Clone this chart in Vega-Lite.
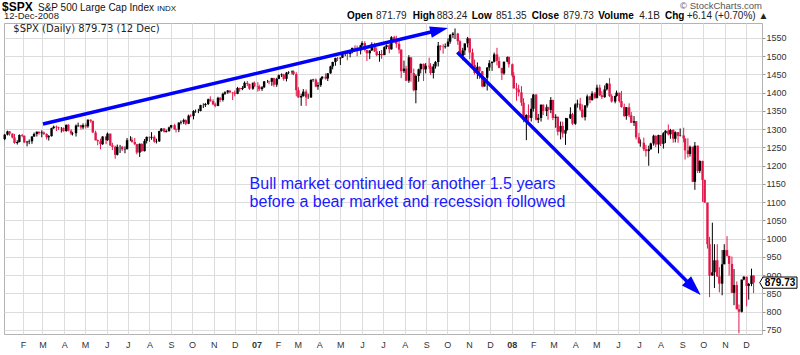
{
"$schema":"https://vega.github.io/schema/vega-lite/v6.json",
"width":758,"height":311,
"autosize":{"type":"none"},
"padding":{"left":4,"top":23,"right":38,"bottom":21},
"background":"#ffffff",
"config":{"view":{"stroke":"#b3b3b3","strokeWidth":1},"font":"Liberation Sans","scale":{"continuousPadding":0}},
"data":{"values":[
{"d":"2006-01-06","o":1273,"h":1287,"l":1270,"c":1285},
{"d":"2006-01-10","o":1285,"h":1296,"l":1283,"c":1294},
{"d":"2006-01-13","o":1294,"h":1295,"l":1282,"c":1288},
{"d":"2006-01-17","o":1288,"h":1288,"l":1275,"c":1277},
{"d":"2006-01-20","o":1277,"h":1287,"l":1260,"c":1262},
{"d":"2006-01-24","o":1262,"h":1270,"l":1258,"c":1265},
{"d":"2006-01-27","o":1265,"h":1286,"l":1264,"c":1284},
{"d":"2006-01-31","o":1284,"h":1287,"l":1278,"c":1282},
{"d":"2006-02-03","o":1282,"h":1283,"l":1262,"c":1264},
{"d":"2006-02-07","o":1264,"h":1268,"l":1253,"c":1266},
{"d":"2006-02-10","o":1266,"h":1272,"l":1259,"c":1267},
{"d":"2006-02-14","o":1267,"h":1281,"l":1260,"c":1280},
{"d":"2006-02-17","o":1280,"h":1291,"l":1279,"c":1287},
{"d":"2006-02-21","o":1287,"h":1294,"l":1280,"c":1293},
{"d":"2006-02-24","o":1293,"h":1294,"l":1285,"c":1289},
{"d":"2006-02-28","o":1289,"h":1297,"l":1278,"c":1291},
{"d":"2006-03-03","o":1291,"h":1294,"l":1284,"c":1287},
{"d":"2006-03-07","o":1287,"h":1289,"l":1272,"c":1278},
{"d":"2006-03-10","o":1278,"h":1284,"l":1269,"c":1281},
{"d":"2006-03-14","o":1281,"h":1304,"l":1280,"c":1303},
{"d":"2006-03-17","o":1303,"h":1310,"l":1301,"c":1307},
{"d":"2006-03-21","o":1307,"h":1310,"l":1295,"c":1305},
{"d":"2006-03-24","o":1305,"h":1307,"l":1298,"c":1303},
{"d":"2006-03-28","o":1303,"h":1306,"l":1291,"c":1303},
{"d":"2006-03-31","o":1303,"h":1305,"l":1293,"c":1295},
{"d":"2006-04-04","o":1295,"h":1313,"l":1293,"c":1312},
{"d":"2006-04-07","o":1312,"h":1314,"l":1294,"c":1296},
{"d":"2006-04-11","o":1296,"h":1300,"l":1284,"c":1288},
{"d":"2006-04-13","o":1288,"h":1292,"l":1283,"c":1289},
{"d":"2006-04-18","o":1289,"h":1313,"l":1280,"c":1310},
{"d":"2006-04-21","o":1310,"h":1318,"l":1306,"c":1311},
{"d":"2006-04-25","o":1311,"h":1312,"l":1299,"c":1305},
{"d":"2006-04-28","o":1305,"h":1316,"l":1300,"c":1311},
{"d":"2006-05-02","o":1311,"h":1316,"l":1302,"c":1308},
{"d":"2006-05-05","o":1308,"h":1327,"l":1304,"c":1326},
{"d":"2006-05-09","o":1326,"h":1327,"l":1318,"c":1323},
{"d":"2006-05-12","o":1323,"h":1323,"l":1290,"c":1291},
{"d":"2006-05-16","o":1291,"h":1296,"l":1269,"c":1270},
{"d":"2006-05-19","o":1270,"h":1272,"l":1256,"c":1267},
{"d":"2006-05-23","o":1267,"h":1274,"l":1245,"c":1259},
{"d":"2006-05-26","o":1259,"h":1281,"l":1257,"c":1280},
{"d":"2006-05-31","o":1280,"h":1281,"l":1259,"c":1270},
{"d":"2006-06-02","o":1270,"h":1291,"l":1268,"c":1288},
{"d":"2006-06-06","o":1288,"h":1288,"l":1254,"c":1256},
{"d":"2006-06-09","o":1256,"h":1263,"l":1243,"c":1252},
{"d":"2006-06-13","o":1252,"h":1255,"l":1219,"c":1230},
{"d":"2006-06-16","o":1230,"h":1258,"l":1228,"c":1252},
{"d":"2006-06-20","o":1252,"h":1257,"l":1235,"c":1252},
{"d":"2006-06-23","o":1252,"h":1254,"l":1240,"c":1245},
{"d":"2006-06-27","o":1245,"h":1253,"l":1234,"c":1246},
{"d":"2006-06-30","o":1246,"h":1276,"l":1244,"c":1270},
{"d":"2006-07-05","o":1270,"h":1281,"l":1268,"c":1271},
{"d":"2006-07-07","o":1271,"h":1278,"l":1263,"c":1265},
{"d":"2006-07-11","o":1265,"h":1276,"l":1257,"c":1259},
{"d":"2006-07-14","o":1259,"h":1260,"l":1231,"c":1236},
{"d":"2006-07-18","o":1236,"h":1261,"l":1224,"c":1260},
{"d":"2006-07-21","o":1260,"h":1261,"l":1238,"c":1240},
{"d":"2006-07-25","o":1240,"h":1273,"l":1239,"c":1268},
{"d":"2006-07-28","o":1268,"h":1280,"l":1261,"c":1279},
{"d":"2006-08-01","o":1279,"h":1280,"l":1265,"c":1277},
{"d":"2006-08-04","o":1277,"h":1292,"l":1271,"c":1279},
{"d":"2006-08-08","o":1279,"h":1283,"l":1263,"c":1266},
{"d":"2006-08-11","o":1266,"h":1274,"l":1261,"c":1267},
{"d":"2006-08-15","o":1267,"h":1296,"l":1265,"c":1295},
{"d":"2006-08-18","o":1295,"h":1303,"l":1293,"c":1302},
{"d":"2006-08-22","o":1302,"h":1303,"l":1291,"c":1293},
{"d":"2006-08-25","o":1293,"h":1299,"l":1291,"c":1295},
{"d":"2006-08-29","o":1295,"h":1307,"l":1293,"c":1305},
{"d":"2006-09-01","o":1305,"h":1312,"l":1302,"c":1311},
{"d":"2006-09-06","o":1311,"h":1315,"l":1298,"c":1300},
{"d":"2006-09-08","o":1300,"h":1302,"l":1291,"c":1299},
{"d":"2006-09-12","o":1299,"h":1319,"l":1292,"c":1318},
{"d":"2006-09-15","o":1318,"h":1324,"l":1313,"c":1320},
{"d":"2006-09-19","o":1320,"h":1329,"l":1314,"c":1325},
{"d":"2006-09-22","o":1325,"h":1327,"l":1311,"c":1315},
{"d":"2006-09-26","o":1315,"h":1340,"l":1314,"c":1337},
{"d":"2006-09-29","o":1337,"h":1341,"l":1333,"c":1336},
{"d":"2006-10-03","o":1336,"h":1352,"l":1327,"c":1350},
{"d":"2006-10-06","o":1350,"h":1354,"l":1345,"c":1350},
{"d":"2006-10-10","o":1350,"h":1356,"l":1344,"c":1350},
{"d":"2006-10-13","o":1350,"h":1367,"l":1349,"c":1366},
{"d":"2006-10-17","o":1366,"h":1371,"l":1358,"c":1366},
{"d":"2006-10-20","o":1366,"h":1372,"l":1361,"c":1369},
{"d":"2006-10-24","o":1369,"h":1384,"l":1366,"c":1382},
{"d":"2006-10-27","o":1382,"h":1390,"l":1375,"c":1377},
{"d":"2006-10-31","o":1377,"h":1382,"l":1366,"c":1368},
{"d":"2006-11-03","o":1368,"h":1373,"l":1360,"c":1364},
{"d":"2006-11-07","o":1364,"h":1389,"l":1363,"c":1386},
{"d":"2006-11-10","o":1386,"h":1388,"l":1374,"c":1380},
{"d":"2006-11-14","o":1380,"h":1400,"l":1376,"c":1397},
{"d":"2006-11-17","o":1397,"h":1404,"l":1394,"c":1401},
{"d":"2006-11-21","o":1401,"h":1407,"l":1397,"c":1406},
{"d":"2006-11-24","o":1406,"h":1406,"l":1399,"c":1401},
{"d":"2006-11-28","o":1401,"h":1402,"l":1380,"c":1400},
{"d":"2006-12-01","o":1400,"h":1406,"l":1390,"c":1397},
{"d":"2006-12-05","o":1397,"h":1416,"l":1396,"c":1413},
{"d":"2006-12-08","o":1413,"h":1414,"l":1403,"c":1410},
{"d":"2006-12-12","o":1410,"h":1418,"l":1407,"c":1413},
{"d":"2006-12-15","o":1413,"h":1431,"l":1413,"c":1427},
{"d":"2006-12-19","o":1427,"h":1432,"l":1418,"c":1424},
{"d":"2006-12-22","o":1424,"h":1425,"l":1408,"c":1411},
{"d":"2006-12-27","o":1411,"h":1428,"l":1408,"c":1427},
{"d":"2006-12-29","o":1427,"h":1431,"l":1416,"c":1418},
{"d":"2007-01-03","o":1418,"h":1429,"l":1403,"c":1417},
{"d":"2007-01-05","o":1417,"h":1422,"l":1405,"c":1410},
{"d":"2007-01-09","o":1410,"h":1418,"l":1405,"c":1415},
{"d":"2007-01-12","o":1415,"h":1432,"l":1413,"c":1431},
{"d":"2007-01-17","o":1431,"h":1435,"l":1427,"c":1431},
{"d":"2007-01-19","o":1431,"h":1433,"l":1423,"c":1430},
{"d":"2007-01-23","o":1430,"h":1441,"l":1419,"c":1440},
{"d":"2007-01-26","o":1440,"h":1441,"l":1416,"c":1422},
{"d":"2007-01-30","o":1422,"h":1441,"l":1416,"c":1438},
{"d":"2007-02-02","o":1438,"h":1450,"l":1437,"c":1448},
{"d":"2007-02-06","o":1448,"h":1453,"l":1443,"c":1450},
{"d":"2007-02-09","o":1450,"h":1452,"l":1433,"c":1438},
{"d":"2007-02-13","o":1438,"h":1457,"l":1431,"c":1455},
{"d":"2007-02-16","o":1455,"h":1459,"l":1451,"c":1456},
{"d":"2007-02-21","o":1456,"h":1461,"l":1450,"c":1458},
{"d":"2007-02-23","o":1458,"h":1461,"l":1448,"c":1451},
{"d":"2007-02-27","o":1451,"h":1456,"l":1390,"c":1407},
{"d":"2007-03-02","o":1407,"h":1415,"l":1386,"c":1387},
{"d":"2007-03-06","o":1387,"h":1397,"l":1364,"c":1391},
{"d":"2007-03-09","o":1391,"h":1410,"l":1389,"c":1403},
{"d":"2007-03-13","o":1403,"h":1409,"l":1364,"c":1387},
{"d":"2007-03-16","o":1387,"h":1397,"l":1383,"c":1387},
{"d":"2007-03-20","o":1387,"h":1437,"l":1386,"c":1435},
{"d":"2007-03-23","o":1435,"h":1438,"l":1430,"c":1436},
{"d":"2007-03-27","o":1436,"h":1439,"l":1415,"c":1417},
{"d":"2007-03-30","o":1417,"h":1429,"l":1408,"c":1421},
{"d":"2007-04-03","o":1421,"h":1441,"l":1416,"c":1439},
{"d":"2007-04-05","o":1439,"h":1445,"l":1436,"c":1444},
{"d":"2007-04-10","o":1444,"h":1453,"l":1436,"c":1439},
{"d":"2007-04-13","o":1439,"h":1454,"l":1432,"c":1453},
{"d":"2007-04-17","o":1453,"h":1474,"l":1452,"c":1472},
{"d":"2007-04-20","o":1472,"h":1485,"l":1464,"c":1484},
{"d":"2007-04-24","o":1484,"h":1496,"l":1474,"c":1495},
{"d":"2007-04-27","o":1495,"h":1498,"l":1487,"c":1494},
{"d":"2007-05-01","o":1494,"h":1497,"l":1476,"c":1496},
{"d":"2007-05-04","o":1496,"h":1510,"l":1495,"c":1506},
{"d":"2007-05-08","o":1506,"h":1514,"l":1500,"c":1513},
{"d":"2007-05-11","o":1513,"h":1513,"l":1489,"c":1506},
{"d":"2007-05-15","o":1506,"h":1515,"l":1497,"c":1514},
{"d":"2007-05-18","o":1514,"h":1523,"l":1508,"c":1523},
{"d":"2007-05-22","o":1523,"h":1530,"l":1518,"c":1522},
{"d":"2007-05-25","o":1522,"h":1529,"l":1500,"c":1516},
{"d":"2007-05-30","o":1516,"h":1531,"l":1505,"c":1530},
{"d":"2007-06-01","o":1530,"h":1541,"l":1527,"c":1536},
{"d":"2007-06-05","o":1536,"h":1541,"l":1513,"c":1517},
{"d":"2007-06-08","o":1517,"h":1518,"l":1487,"c":1508},
{"d":"2007-06-12","o":1508,"h":1516,"l":1492,"c":1516},
{"d":"2007-06-15","o":1516,"h":1538,"l":1514,"c":1533},
{"d":"2007-06-19","o":1533,"h":1537,"l":1512,"c":1513},
{"d":"2007-06-22","o":1513,"h":1524,"l":1500,"c":1503},
{"d":"2007-06-26","o":1503,"h":1514,"l":1485,"c":1506},
{"d":"2007-06-29","o":1506,"h":1517,"l":1493,"c":1503},
{"d":"2007-07-03","o":1503,"h":1527,"l":1503,"c":1525},
{"d":"2007-07-06","o":1525,"h":1532,"l":1519,"c":1530},
{"d":"2007-07-10","o":1530,"h":1534,"l":1508,"c":1519},
{"d":"2007-07-13","o":1519,"h":1555,"l":1518,"c":1552},
{"d":"2007-07-17","o":1552,"h":1556,"l":1537,"c":1546},
{"d":"2007-07-20","o":1546,"h":1556,"l":1523,"c":1534},
{"d":"2007-07-24","o":1534,"h":1547,"l":1507,"c":1518},
{"d":"2007-07-27","o":1518,"h":1519,"l":1440,"c":1459},
{"d":"2007-07-31","o":1459,"h":1488,"l":1454,"c":1466},
{"d":"2007-08-03","o":1466,"h":1474,"l":1432,"c":1433},
{"d":"2007-08-07","o":1433,"h":1503,"l":1427,"c":1497},
{"d":"2007-08-10","o":1497,"h":1497,"l":1430,"c":1454},
{"d":"2007-08-14","o":1454,"h":1466,"l":1404,"c":1407},
{"d":"2007-08-17","o":1407,"h":1450,"l":1371,"c":1446},
{"d":"2007-08-21","o":1446,"h":1466,"l":1430,"c":1464},
{"d":"2007-08-24","o":1464,"h":1480,"l":1453,"c":1479},
{"d":"2007-08-28","o":1479,"h":1480,"l":1432,"c":1464},
{"d":"2007-08-31","o":1464,"h":1481,"l":1453,"c":1474},
{"d":"2007-09-05","o":1474,"h":1496,"l":1465,"c":1472},
{"d":"2007-09-07","o":1472,"h":1481,"l":1449,"c":1454},
{"d":"2007-09-11","o":1454,"h":1479,"l":1439,"c":1472},
{"d":"2007-09-14","o":1472,"h":1487,"l":1466,"c":1484},
{"d":"2007-09-18","o":1484,"h":1539,"l":1472,"c":1529},
{"d":"2007-09-21","o":1529,"h":1530,"l":1516,"c":1526},
{"d":"2007-09-25","o":1526,"h":1533,"l":1507,"c":1525},
{"d":"2007-09-28","o":1525,"h":1535,"l":1521,"c":1527},
{"d":"2007-10-02","o":1527,"h":1549,"l":1526,"c":1540},
{"d":"2007-10-05","o":1540,"h":1561,"l":1534,"c":1558},
{"d":"2007-10-09","o":1558,"h":1566,"l":1550,"c":1562},
{"d":"2007-10-12","o":1562,"h":1576,"l":1547,"c":1562},
{"d":"2007-10-16","o":1562,"h":1564,"l":1531,"c":1541},
{"d":"2007-10-19","o":1541,"h":1545,"l":1500,"c":1501},
{"d":"2007-10-23","o":1501,"h":1523,"l":1489,"c":1516},
{"d":"2007-10-26","o":1516,"h":1535,"l":1503,"c":1535},
{"d":"2007-10-30","o":1535,"h":1553,"l":1524,"c":1549},
{"d":"2007-11-02","o":1549,"h":1549,"l":1492,"c":1510},
{"d":"2007-11-06","o":1510,"h":1521,"l":1475,"c":1476},
{"d":"2007-11-09","o":1476,"h":1491,"l":1450,"c":1454},
{"d":"2007-11-13","o":1454,"h":1483,"l":1438,"c":1471},
{"d":"2007-11-16","o":1471,"h":1472,"l":1438,"c":1459},
{"d":"2007-11-20","o":1459,"h":1459,"l":1415,"c":1417},
{"d":"2007-11-23","o":1417,"h":1441,"l":1417,"c":1441},
{"d":"2007-11-27","o":1441,"h":1470,"l":1406,"c":1469},
{"d":"2007-11-30","o":1469,"h":1489,"l":1460,"c":1481},
{"d":"2007-12-04","o":1481,"h":1485,"l":1460,"c":1485},
{"d":"2007-12-07","o":1485,"h":1510,"l":1483,"c":1505},
{"d":"2007-12-11","o":1505,"h":1523,"l":1475,"c":1487},
{"d":"2007-12-14","o":1487,"h":1498,"l":1467,"c":1468},
{"d":"2007-12-18","o":1468,"h":1468,"l":1435,"c":1453},
{"d":"2007-12-21","o":1453,"h":1485,"l":1449,"c":1485},
{"d":"2007-12-26","o":1485,"h":1499,"l":1484,"c":1498},
{"d":"2007-12-28","o":1498,"h":1499,"l":1469,"c":1478},
{"d":"2008-01-02","o":1478,"h":1480,"l":1442,"c":1447},
{"d":"2008-01-04","o":1447,"h":1456,"l":1411,"c":1412},
{"d":"2008-01-08","o":1412,"h":1427,"l":1378,"c":1409},
{"d":"2008-01-11","o":1409,"h":1422,"l":1390,"c":1401},
{"d":"2008-01-15","o":1401,"h":1418,"l":1364,"c":1373},
{"d":"2008-01-18","o":1373,"h":1385,"l":1319,"c":1325},
{"d":"2008-01-22","o":1325,"h":1341,"l":1270,"c":1339},
{"d":"2008-01-25","o":1339,"h":1368,"l":1322,"c":1331},
{"d":"2008-01-29","o":1331,"h":1385,"l":1321,"c":1356},
{"d":"2008-02-01","o":1356,"h":1397,"l":1348,"c":1395},
{"d":"2008-02-05","o":1395,"h":1396,"l":1324,"c":1326},
{"d":"2008-02-08","o":1326,"h":1342,"l":1317,"c":1331},
{"d":"2008-02-12","o":1331,"h":1368,"l":1321,"c":1367},
{"d":"2008-02-15","o":1367,"h":1368,"l":1339,"c":1350},
{"d":"2008-02-20","o":1350,"h":1368,"l":1336,"c":1360},
{"d":"2008-02-22","o":1360,"h":1362,"l":1326,"c":1353},
{"d":"2008-02-26","o":1353,"h":1388,"l":1344,"c":1380},
{"d":"2008-02-29","o":1380,"h":1381,"l":1325,"c":1331},
{"d":"2008-03-04","o":1331,"h":1341,"l":1304,"c":1334},
{"d":"2008-03-07","o":1334,"h":1335,"l":1283,"c":1293},
{"d":"2008-03-11","o":1293,"h":1321,"l":1272,"c":1309},
{"d":"2008-03-14","o":1309,"h":1321,"l":1277,"c":1288},
{"d":"2008-03-18","o":1288,"h":1331,"l":1257,"c":1298},
{"d":"2008-03-20","o":1298,"h":1331,"l":1295,"c":1330},
{"d":"2008-03-25","o":1330,"h":1360,"l":1328,"c":1341},
{"d":"2008-03-28","o":1341,"h":1345,"l":1312,"c":1315},
{"d":"2008-04-01","o":1315,"h":1371,"l":1312,"c":1368},
{"d":"2008-04-04","o":1368,"h":1381,"l":1359,"c":1370},
{"d":"2008-04-08","o":1370,"h":1386,"l":1350,"c":1354},
{"d":"2008-04-11","o":1354,"h":1368,"l":1331,"c":1333},
{"d":"2008-04-15","o":1333,"h":1366,"l":1324,"c":1365},
{"d":"2008-04-18","o":1365,"h":1395,"l":1359,"c":1390},
{"d":"2008-04-22","o":1390,"h":1392,"l":1371,"c":1380},
{"d":"2008-04-25","o":1380,"h":1404,"l":1378,"c":1398},
{"d":"2008-04-29","o":1398,"h":1402,"l":1383,"c":1386},
{"d":"2008-05-02","o":1386,"h":1422,"l":1384,"c":1414},
{"d":"2008-05-06","o":1414,"h":1422,"l":1391,"c":1393},
{"d":"2008-05-09","o":1393,"h":1404,"l":1383,"c":1388},
{"d":"2008-05-13","o":1388,"h":1420,"l":1386,"c":1409},
{"d":"2008-05-16","o":1409,"h":1427,"l":1406,"c":1425},
{"d":"2008-05-20","o":1425,"h":1440,"l":1388,"c":1391},
{"d":"2008-05-23","o":1391,"h":1396,"l":1373,"c":1376},
{"d":"2008-05-28","o":1376,"h":1392,"l":1371,"c":1391},
{"d":"2008-05-30","o":1391,"h":1406,"l":1389,"c":1400},
{"d":"2008-06-03","o":1400,"h":1400,"l":1373,"c":1377},
{"d":"2008-06-06","o":1377,"h":1405,"l":1359,"c":1361},
{"d":"2008-06-10","o":1361,"h":1370,"l":1334,"c":1336},
{"d":"2008-06-13","o":1336,"h":1361,"l":1326,"c":1360},
{"d":"2008-06-17","o":1360,"h":1371,"l":1333,"c":1338},
{"d":"2008-06-20","o":1338,"h":1347,"l":1317,"c":1318},
{"d":"2008-06-24","o":1318,"h":1336,"l":1309,"c":1322},
{"d":"2008-06-27","o":1322,"h":1322,"l":1272,"c":1278},
{"d":"2008-07-01","o":1278,"h":1290,"l":1260,"c":1262},
{"d":"2008-07-03","o":1262,"h":1272,"l":1252,"c":1263},
{"d":"2008-07-08","o":1263,"h":1277,"l":1240,"c":1245},
{"d":"2008-07-11","o":1245,"h":1257,"l":1225,"c":1240},
{"d":"2008-07-15","o":1240,"h":1255,"l":1200,"c":1245},
{"d":"2008-07-18","o":1245,"h":1263,"l":1244,"c":1261},
{"d":"2008-07-22","o":1261,"h":1285,"l":1255,"c":1282},
{"d":"2008-07-25","o":1282,"h":1283,"l":1251,"c":1258},
{"d":"2008-07-29","o":1258,"h":1285,"l":1234,"c":1284},
{"d":"2008-08-01","o":1284,"h":1284,"l":1254,"c":1260},
{"d":"2008-08-05","o":1260,"h":1292,"l":1247,"c":1289},
{"d":"2008-08-08","o":1289,"h":1297,"l":1262,"c":1296},
{"d":"2008-08-12","o":1296,"h":1313,"l":1283,"c":1286},
{"d":"2008-08-15","o":1286,"h":1301,"l":1274,"c":1298},
{"d":"2008-08-19","o":1298,"h":1300,"l":1263,"c":1274},
{"d":"2008-08-22","o":1274,"h":1294,"l":1264,"c":1292},
{"d":"2008-08-26","o":1292,"h":1292,"l":1263,"c":1282},
{"d":"2008-08-29","o":1282,"h":1302,"l":1280,"c":1283},
{"d":"2008-09-03","o":1283,"h":1304,"l":1264,"c":1275},
{"d":"2008-09-05","o":1275,"h":1275,"l":1217,"c":1242},
{"d":"2008-09-09","o":1242,"h":1275,"l":1222,"c":1232},
{"d":"2008-09-12","o":1232,"h":1255,"l":1225,"c":1252},
{"d":"2008-09-16","o":1252,"h":1252,"l":1155,"c":1156},
{"d":"2008-09-19","o":1156,"h":1265,"l":1134,"c":1255},
{"d":"2008-09-23","o":1255,"h":1255,"l":1180,"c":1186},
{"d":"2008-09-26","o":1186,"h":1215,"l":1180,"c":1213},
{"d":"2008-09-30","o":1213,"h":1214,"l":1101,"c":1161},
{"d":"2008-10-03","o":1161,"h":1162,"l":1098,"c":1099},
{"d":"2008-10-07","o":1099,"h":1099,"l":973,"c":985},
{"d":"2008-10-10","o":985,"h":1005,"l":840,"c":899},
{"d":"2008-10-14","o":899,"h":1044,"l":899,"c":908},
{"d":"2008-10-17","o":908,"h":985,"l":865,"c":941},
{"d":"2008-10-21","o":941,"h":985,"l":895,"c":897},
{"d":"2008-10-24","o":897,"h":922,"l":853,"c":877},
{"d":"2008-10-28","o":877,"h":969,"l":845,"c":930},
{"d":"2008-10-31","o":930,"h":985,"l":930,"c":969},
{"d":"2008-11-04","o":969,"h":1007,"l":951,"c":953},
{"d":"2008-11-07","o":953,"h":953,"l":899,"c":931},
{"d":"2008-11-11","o":931,"h":951,"l":851,"c":852},
{"d":"2008-11-14","o":852,"h":917,"l":818,"c":873},
{"d":"2008-11-18","o":873,"h":883,"l":806,"c":807},
{"d":"2008-11-21","o":807,"h":820,"l":741,"c":800},
{"d":"2008-11-25","o":800,"h":888,"l":798,"c":888},
{"d":"2008-11-28","o":888,"h":897,"l":886,"c":896},
{"d":"2008-12-02","o":896,"h":896,"l":815,"c":871},
{"d":"2008-12-05","o":871,"h":879,"l":833,"c":876},
{"d":"2008-12-09","o":876,"h":918,"l":870,"c":899},
{"d":"2008-12-12","o":899,"h":900,"l":851,"c":880}
]},
"layer":[
{"mark":{"type":"rule","strokeWidth":1},
 "encoding":{
  "x":{"field":"d","type":"temporal",
   "scale":{"domain":[{"year":2006,"month":1,"date":5},{"year":2008,"month":12,"date":24}],"nice":false,"padding":0},
   "axis":{"title":null,"tickCount":{"interval":"month","step":1},
    "labelExpr":"month(datum.value) == 0 ? timeFormat(datum.value, '%y') : substring(timeFormat(datum.value, '%b'), 0, 1)",
    "labelFontWeight":{"condition":{"test":"month(datum.value) == 0","value":"bold"},"value":"normal"},
    "grid":true,"gridColor":"#dcdcdc","domain":false,"ticks":false,"tickSize":0,"labelPadding":6,
    "labelFont":"Liberation Sans","labelFontSize":9,"labelColor":"#333333","labelOverlap":false,"labelFlush":false}},
  "y":{"field":"l","type":"quantitative",
   "scale":{"domain":[739,1591],"nice":false,"zero":false},
   "axis":{"title":null,"orient":"right","values":[750,800,850,900,950,1000,1050,1100,1150,1200,1250,1300,1350,1400,1450,1500,1550],
    "tickCount":40,"format":"d","grid":true,"gridColor":"#dcdcdc","domain":false,"tickSize":3,"tickColor":"#999999","labelPadding":1,"labelOverlap":false,
    "labelFont":"Liberation Sans","labelFontSize":9,"labelColor":"#333333"}},
  "y2":{"field":"h"},
  "color":{"condition":{"test":"datum.c < datum.o","value":"#e2174a"},"value":"#000000"}}},
{"mark":{"type":"bar","size":2.4},
 "encoding":{
  "x":{"field":"d","type":"temporal","scale":{"domain":[{"year":2006,"month":1,"date":5},{"year":2008,"month":12,"date":24}],"nice":false,"padding":0}},
  "y":{"field":"o","type":"quantitative"},
  "y2":{"field":"c"},
  "color":{"condition":{"test":"datum.c < datum.o","value":"#e2174a"},"value":"#000000"}}},
{"data":{"values":[{"t0":"2006-03-01T18:00","v0":1314.3,"t1":"2007-09-18T02:00","v1":1571},{"t0":"2007-10-15T06:00","v0":1510.7,"t1":"2008-09-17T05:00","v1":865.2}]},
 "mark":{"type":"rule","color":"#0000ff","strokeWidth":3.5},
 "encoding":{"x":{"field":"t0","type":"temporal"},"y":{"field":"v0","type":"quantitative"},"x2":{"field":"t1"},"y2":{"field":"v1"}}},
{"data":{"values":[{}]},
 "mark":{"type":"point","shape":"M0,0L-2,-0.65L-2,0.65Z","size":324,"angle":346.67,"filled":true,"opacity":1,"color":"#0000ff","strokeWidth":0},
 "encoding":{"x":{"datum":{"year":2007,"month":10,"date":1,"hours":23},"type":"temporal"},"y":{"datum":1577.3,"type":"quantitative"}}},
{"data":{"values":[{}]},
 "mark":{"type":"point","shape":"M0,0L-2,-0.65L-2,0.65Z","size":400,"angle":44.92,"filled":true,"opacity":1,"color":"#0000ff","strokeWidth":0},
 "encoding":{"x":{"datum":{"year":2008,"month":9,"date":27,"hours":7},"type":"temporal"},"y":{"datum":845.8,"type":"quantitative"}}},
{"data":{"values":[{}]},
 "mark":{"type":"text","align":"left","baseline":"alphabetic","font":"Liberation Sans","fontSize":16,"lineHeight":17.5,"color":"#1a1aff"},
 "encoding":{"x":{"datum":{"year":2006,"month":12,"date":22,"hours":5},"type":"temporal"},"y":{"datum":1136.2,"type":"quantitative"},
  "text":{"value":["Bull market continued for another 1.5 years","before a bear market and recession followed"]}}},
{"data":{"values":[{}]},
 "mark":{"type":"text","align":"left","baseline":"alphabetic","font":"Liberation Sans","fontSize":12,"fontWeight":"bold","color":"#000000"},
 "encoding":{"x":{"datum":{"year":2006,"month":1,"date":2,"hours":3},"type":"temporal"},"y":{"datum":1625.2,"type":"quantitative"},"text":{"value":"$SPX"}}},
{"data":{"values":[{}]},
 "mark":{"type":"text","align":"left","baseline":"alphabetic","font":"Liberation Sans","fontSize":10,"color":"#111111"},
 "encoding":{"x":{"datum":{"year":2006,"month":2,"date":22,"hours":14},"type":"temporal"},"y":{"datum":1625.2,"type":"quantitative"},"text":{"value":"S&P 500 Large Cap Index"}}},
{"data":{"values":[{}]},
 "mark":{"type":"text","align":"left","baseline":"alphabetic","font":"Liberation Sans","fontSize":8,"color":"#111111"},
 "encoding":{"x":{"datum":{"year":2006,"month":8,"date":11,"hours":19},"type":"temporal"},"y":{"datum":1625.2,"type":"quantitative"},"text":{"value":"INDX"}}},
{"data":{"values":[{}]},
 "mark":{"type":"text","align":"right","baseline":"alphabetic","font":"Liberation Sans","fontSize":9.5,"color":"#555555"},
 "encoding":{"x":{"datum":{"year":2008,"month":12,"date":24},"type":"temporal"},"y":{"datum":1628.5,"type":"quantitative"},"text":{"value":"© StockCharts.com"}}},
{"data":{"values":[{}]},
 "mark":{"type":"text","align":"left","baseline":"alphabetic","font":"Liberation Sans","fontSize":9.5,"color":"#222222"},
 "encoding":{"x":{"datum":{"year":2006,"month":1,"date":5},"type":"temporal"},"y":{"datum":1602.8,"type":"quantitative"},"text":{"value":"12-Dec-2008"}}},
{"data":{"values":[
  {"t":"Open","d":"2007-05-10T12:00","v":1602.8},
  {"t":"High","d":"2007-08-12T12:00","v":1602.8},
  {"t":"Low","d":"2007-11-04T19:00","v":1602.8},
  {"t":"Close","d":"2008-01-29T17:00","v":1602.8},
  {"t":"Volume","d":"2008-05-03T22:00","v":1602.8},
  {"t":"Chg","d":"2008-08-07T07:00","v":1602.8}]},
 "mark":{"type":"text","align":"left","baseline":"alphabetic","font":"Liberation Sans","fontSize":10,"fontWeight":"bold","color":"#000000"},
 "encoding":{"x":{"field":"d","type":"temporal"},"y":{"field":"v","type":"quantitative"},"text":{"field":"t"}}},
{"data":{"values":[
  {"t":"871.79","d":"2007-06-21T00:00","v":1602.8},
  {"t":"883.24","d":"2007-09-15T19:00","v":1602.8},
  {"t":"851.35","d":"2007-12-09T14:00","v":1602.8},
  {"t":"879.73","d":"2008-03-14T19:00","v":1602.8},
  {"t":"4.1B","d":"2008-07-01T12:00","v":1602.8},
  {"t":"+6.14 (+0.70%) ▲","d":"2008-09-07T07:00","v":1602.8}]},
 "mark":{"type":"text","align":"left","baseline":"alphabetic","font":"Liberation Sans","fontSize":10,"color":"#222222"},
 "encoding":{"x":{"field":"d","type":"temporal"},"y":{"field":"v","type":"quantitative"},"text":{"field":"t"}}},
{"data":{"values":[{}]},
 "mark":{"type":"text","align":"left","baseline":"alphabetic","font":"DejaVu Sans","fontSize":10,"color":"#222222"},
 "encoding":{"x":{"datum":{"year":2006,"month":1,"date":18,"hours":7},"type":"temporal"},"y":{"datum":1565.5,"type":"quantitative"},"text":{"value":"$SPX (Daily) 879.73 (12 Dec)"}}},
{"data":{"values":[{}]},
 "mark":{"type":"point","shape":"M-1.19,0L-1,-0.33L1,-0.33L1,0.33L-1,0.33Z","size":1156,"filled":true,"fill":"#ffffff","stroke":"#000000","strokeWidth":1,"opacity":1},
 "encoding":{"x":{"datum":{"year":2009,"month":1,"date":18,"hours":17},"type":"temporal"},"y":{"datum":879.73,"type":"quantitative"}}},
{"data":{"values":[{}]},
 "mark":{"type":"text","align":"center","baseline":"middle","font":"Liberation Sans","fontSize":10,"fontWeight":"bold","color":"#000000"},
 "encoding":{"x":{"datum":{"year":2009,"month":1,"date":18,"hours":17},"type":"temporal"},"y":{"datum":879.73,"type":"quantitative"},"text":{"value":"879.73"}}}
]
}
